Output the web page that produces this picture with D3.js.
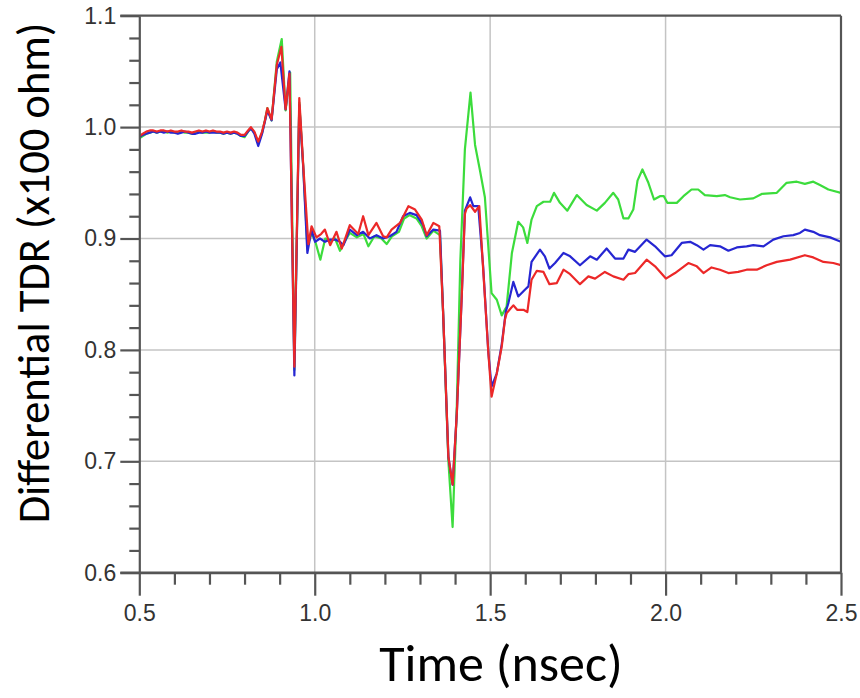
<!DOCTYPE html>
<html>
<head>
<meta charset="utf-8">
<script src="https://cdn.jsdelivr.net/npm/d3@7"></script>
<style>
  body { margin: 0; background: #fff; }
  svg { display: block; }
</style>
</head>
<body>
<svg id="chart" width="860" height="698"></svg>
<script>
// [time (nsec), impedance (x100 ohm)]
var greenSeries = [
  [0.500,0.990],[0.510,0.992],[0.520,0.994],[0.530,0.995],[0.540,0.996],[0.550,0.995],[0.560,0.996],[0.570,0.996],
  [0.580,0.995],[0.590,0.996],[0.600,0.995],[0.610,0.995],[0.620,0.996],[0.630,0.995],[0.640,0.995],[0.650,0.994],
  [0.660,0.995],[0.670,0.996],[0.680,0.995],[0.690,0.995],[0.700,0.995],[0.710,0.996],[0.720,0.995],[0.730,0.995],
  [0.740,0.994],[0.750,0.995],[0.760,0.994],[0.770,0.995],[0.780,0.994],[0.790,0.992],[0.800,0.991],[0.810,0.996],
  [0.818,0.999],[0.828,0.995],[0.839,0.986],[0.850,0.995],[0.858,1.006],[0.865,1.017],[0.877,1.006],[0.892,1.059],
  [0.906,1.079],[0.917,1.015],[0.930,1.049],[0.942,0.782],[0.956,1.022],[0.967,0.966],[0.979,0.893],[0.991,0.905],
  [1.001,0.898],[1.016,0.881],[1.030,0.900],[1.044,0.897],[1.058,0.900],[1.072,0.889],[1.085,0.897],[1.100,0.905],
  [1.120,0.901],[1.139,0.904],[1.153,0.893],[1.170,0.902],[1.190,0.900],[1.205,0.895],[1.220,0.902],[1.240,0.906],
  [1.255,0.918],[1.270,0.921],[1.290,0.918],[1.305,0.911],[1.319,0.900],[1.338,0.907],[1.357,0.903],[1.366,0.833],
  [1.381,0.700],[1.393,0.641],[1.405,0.750],[1.415,0.880],[1.428,0.980],[1.444,1.031],[1.457,0.984],[1.471,0.961],
  [1.485,0.937],[1.504,0.851],[1.519,0.845],[1.533,0.831],[1.547,0.839],[1.562,0.887],[1.580,0.915],[1.594,0.910],
  [1.606,0.896],[1.618,0.917],[1.633,0.929],[1.652,0.933],[1.671,0.933],[1.682,0.941],[1.699,0.932],[1.720,0.925],
  [1.747,0.939],[1.775,0.930],[1.804,0.925],[1.827,0.932],[1.851,0.941],[1.865,0.935],[1.880,0.918],[1.894,0.918],
  [1.908,0.926],[1.920,0.952],[1.934,0.962],[1.951,0.950],[1.967,0.935],[1.984,0.938],[1.995,0.938],[2.005,0.932],
  [2.032,0.932],[2.051,0.938],[2.074,0.944],[2.093,0.944],[2.112,0.939],[2.146,0.938],[2.169,0.939],[2.184,0.937],
  [2.212,0.935],[2.250,0.936],[2.274,0.940],[2.317,0.941],[2.345,0.950],[2.374,0.951],[2.397,0.949],[2.421,0.951],
  [2.440,0.948],[2.464,0.944],[2.500,0.941]
];

var blueSeries = [
  [0.500,0.991],[0.510,0.993],[0.520,0.994],[0.530,0.995],[0.540,0.996],[0.550,0.995],[0.560,0.996],[0.570,0.995],
  [0.580,0.996],[0.590,0.995],[0.600,0.995],[0.610,0.994],[0.620,0.995],[0.630,0.996],[0.640,0.995],[0.650,0.994],
  [0.660,0.994],[0.670,0.995],[0.680,0.995],[0.690,0.996],[0.700,0.995],[0.710,0.995],[0.720,0.995],[0.730,0.995],
  [0.740,0.994],[0.750,0.995],[0.760,0.994],[0.770,0.995],[0.780,0.994],[0.790,0.992],[0.800,0.992],[0.810,0.996],
  [0.818,0.999],[0.828,0.994],[0.839,0.983],[0.850,0.994],[0.858,1.005],[0.865,1.015],[0.877,1.006],[0.892,1.052],
  [0.902,1.058],[0.917,1.016],[0.928,1.050],[0.942,0.777],[0.956,1.020],[0.967,0.965],[0.979,0.887],[0.991,0.908],
  [1.001,0.897],[1.015,0.900],[1.029,0.897],[1.044,0.899],[1.058,0.899],[1.072,0.897],[1.082,0.894],[1.100,0.908],
  [1.120,0.903],[1.138,0.906],[1.157,0.900],[1.176,0.903],[1.195,0.900],[1.214,0.902],[1.233,0.906],[1.252,0.920],
  [1.271,0.923],[1.290,0.921],[1.309,0.912],[1.319,0.902],[1.338,0.908],[1.357,0.907],[1.366,0.833],[1.381,0.704],
  [1.393,0.679],[1.405,0.743],[1.419,0.848],[1.428,0.925],[1.443,0.937],[1.452,0.929],[1.466,0.929],[1.480,0.875],
  [1.495,0.797],[1.504,0.767],[1.519,0.779],[1.533,0.805],[1.545,0.835],[1.552,0.842],[1.566,0.861],[1.580,0.848],
  [1.599,0.854],[1.609,0.857],[1.618,0.879],[1.642,0.890],[1.656,0.884],[1.669,0.873],[1.685,0.878],[1.709,0.887],
  [1.728,0.884],[1.756,0.876],[1.785,0.884],[1.804,0.881],[1.832,0.891],[1.856,0.882],[1.880,0.882],[1.894,0.890],
  [1.913,0.888],[1.946,0.899],[1.970,0.893],[1.998,0.884],[2.017,0.885],[2.046,0.896],[2.070,0.897],[2.089,0.894],
  [2.108,0.890],[2.127,0.894],[2.155,0.893],[2.179,0.889],[2.203,0.892],[2.231,0.893],[2.250,0.894],[2.279,0.893],
  [2.307,0.899],[2.336,0.902],[2.364,0.903],[2.383,0.905],[2.397,0.908],[2.421,0.906],[2.440,0.903],[2.469,0.901],
  [2.500,0.897]
];

var redSeries = [
  [0.500,0.992],[0.510,0.994],[0.520,0.996],[0.530,0.997],[0.540,0.997],[0.550,0.996],[0.560,0.997],[0.570,0.997],
  [0.580,0.996],[0.590,0.997],[0.600,0.996],[0.610,0.996],[0.620,0.997],[0.630,0.996],[0.640,0.996],[0.650,0.995],
  [0.660,0.996],[0.670,0.997],[0.680,0.996],[0.690,0.997],[0.700,0.996],[0.710,0.997],[0.720,0.996],[0.730,0.996],
  [0.740,0.995],[0.750,0.996],[0.760,0.995],[0.770,0.996],[0.780,0.995],[0.790,0.993],[0.800,0.993],[0.810,0.997],
  [0.818,1.000],[0.828,0.996],[0.839,0.987],[0.850,0.996],[0.858,1.006],[0.865,1.017],[0.877,1.007],[0.892,1.056],
  [0.905,1.072],[0.917,1.016],[0.928,1.048],[0.942,0.785],[0.956,1.026],[0.967,0.967],[0.982,0.895],[0.991,0.911],
  [1.005,0.901],[1.018,0.904],[1.029,0.908],[1.044,0.894],[1.062,0.906],[1.077,0.891],[1.100,0.912],[1.124,0.904],
  [1.138,0.920],[1.153,0.903],[1.176,0.914],[1.195,0.902],[1.205,0.901],[1.219,0.908],[1.243,0.914],[1.267,0.929],
  [1.286,0.926],[1.305,0.917],[1.319,0.903],[1.338,0.914],[1.355,0.911],[1.366,0.833],[1.381,0.704],[1.393,0.679],
  [1.405,0.743],[1.419,0.848],[1.428,0.922],[1.433,0.927],[1.443,0.930],[1.457,0.924],[1.469,0.929],[1.480,0.873],
  [1.495,0.797],[1.504,0.758],[1.519,0.779],[1.533,0.803],[1.542,0.827],[1.547,0.833],[1.566,0.840],[1.577,0.836],
  [1.595,0.836],[1.606,0.834],[1.618,0.863],[1.633,0.871],[1.652,0.870],[1.669,0.859],[1.690,0.860],[1.709,0.872],
  [1.728,0.868],[1.756,0.859],[1.780,0.866],[1.799,0.864],[1.827,0.870],[1.851,0.866],[1.880,0.863],[1.894,0.868],
  [1.913,0.869],[1.946,0.881],[1.970,0.875],[2.001,0.864],[2.027,0.869],[2.065,0.878],[2.089,0.875],[2.108,0.869],
  [2.131,0.874],[2.155,0.872],[2.179,0.869],[2.207,0.870],[2.231,0.872],[2.260,0.872],[2.288,0.876],[2.317,0.879],
  [2.355,0.881],[2.397,0.885],[2.421,0.883],[2.450,0.879],[2.478,0.878],[2.500,0.876]
];

var xMajorTicks = [0.5, 1.0, 1.5, 2.0, 2.5];
var xMinorTicks = [0.6, 0.7, 0.8, 0.9, 1.1, 1.2, 1.3, 1.4, 1.6, 1.7, 1.8, 1.9, 2.1, 2.2, 2.3, 2.4];
var yMajorTicks = [0.6, 0.7, 0.8, 0.9, 1.0, 1.1];
var xGrid = [1.0, 1.5, 2.0];
var yGrid = [0.7, 0.8, 0.9, 1.0];

//////////////////////////////////////////////////////////////////////////////

var svg = d3.select("#chart");
var plot = { left: 139.3, right: 841, top: 15.7, bottom: 572.7 };
var axisColor = "#555";

var xScale = d3.scaleLinear().domain([0.5, 2.5]).range([plot.left, plot.right]);
var yScale = d3.scaleLinear().domain([0.6, 1.1]).range([plot.bottom, plot.top]);

// grid
svg.append("g").selectAll("line")
  .data(yGrid)
  .enter()
  .append("line")
  .attr("x1", plot.left)
  .attr("x2", plot.right)
  .attr("y1", function(d) { return yScale(d); })
  .attr("y2", function(d) { return yScale(d); })
  .attr("stroke", "#c4c4c4")
  .attr("stroke-width", 1.5);

svg.append("g").selectAll("line")
  .data(xGrid)
  .enter()
  .append("line")
  .attr("x1", function(d) { return xScale(d); })
  .attr("x2", function(d) { return xScale(d); })
  .attr("y1", plot.top)
  .attr("y2", plot.bottom)
  .attr("stroke", "#c4c4c4")
  .attr("stroke-width", 1.5);

// series
svg.append("clipPath")
  .attr("id", "plotClip")
  .append("rect")
  .attr("x", plot.left)
  .attr("y", plot.top)
  .attr("width", plot.right - plot.left)
  .attr("height", plot.bottom - plot.top);

var line = d3.line()
  .x(function(d) { return xScale(d[0]); })
  .y(function(d) { return yScale(d[1]); });

var seriesList = [
  { data: greenSeries, color: "#3cdc3c" },
  { data: blueSeries, color: "#2626d2" },
  { data: redSeries, color: "#ec2828" }
];

svg.append("g")
  .attr("clip-path", "url(#plotClip)")
  .selectAll("path")
  .data(seriesList)
  .enter()
  .append("path")
  .attr("d", function(d) { return line(d.data); })
  .attr("fill", "none")
  .attr("stroke", function(d) { return d.color; })
  .attr("stroke-width", 2.2)
  .attr("stroke-linejoin", "round");

// y axis: minor then major
var yMinor = d3.range(0.62, 1.1, 0.02).filter(function(v) {
  return Math.abs(v * 10 - Math.round(v * 10)) > 0.01;
});

svg.append("g")
  .attr("transform", "translate(" + plot.left + ",0)")
  .call(d3.axisLeft(yScale).tickValues(yMinor).tickSize(10).tickFormat(""))
  .call(function(g) { g.select(".domain").remove(); });

svg.append("g")
  .attr("class", "yaxis")
  .attr("transform", "translate(" + plot.left + ",0)")
  .call(d3.axisLeft(yScale).tickValues(yMajorTicks).tickSize(19).tickSizeOuter(0).tickPadding(4)
    .tickFormat(d3.format(".1f")));

// x axis: minor then major
svg.append("g")
  .attr("transform", "translate(0," + plot.bottom + ")")
  .call(d3.axisBottom(xScale).tickValues(xMinorTicks).tickSize(12).tickFormat(""))
  .call(function(g) { g.select(".domain").remove(); });

svg.append("g")
  .attr("class", "xaxis")
  .attr("transform", "translate(0," + plot.bottom + ")")
  .call(d3.axisBottom(xScale).tickValues(xMajorTicks).tickSize(23).tickSizeOuter(0).tickPadding(9)
    .tickFormat(d3.format(".1f")));

svg.selectAll(".tick line, .domain")
  .attr("stroke", axisColor)
  .attr("stroke-width", 2.2);

svg.selectAll(".xaxis text, .yaxis text")
  .attr("fill", "#333")
  .style("font-family", "'Liberation Sans', Arial, sans-serif")
  .style("font-size", "23px");

// frame: bottom line runs out to the left, top and right close the box
svg.append("line")
  .attr("x1", plot.left - 19).attr("x2", plot.right)
  .attr("y1", plot.bottom).attr("y2", plot.bottom)
  .attr("stroke", axisColor).attr("stroke-width", 2.2);

svg.append("line")
  .attr("x1", plot.left - 19).attr("x2", plot.right)
  .attr("y1", plot.top).attr("y2", plot.top)
  .attr("stroke", axisColor).attr("stroke-width", 2.2);

svg.append("line")
  .attr("x1", plot.right).attr("x2", plot.right)
  .attr("y1", plot.top).attr("y2", plot.bottom)
  .attr("stroke", axisColor).attr("stroke-width", 2.2);

// axis titles
svg.append("text")
  .attr("transform", "translate(49,273) rotate(-90)")
  .style("text-anchor", "middle")
  .style("font-family", "Carlito, Calibri, 'Open Sans', sans-serif")
  .style("font-size", "44.5px")
  .attr("fill", "#000")
  .text("Differential TDR (x100 ohm)");

svg.append("text")
  .attr("x", 501)
  .attr("y", 681)
  .style("text-anchor", "middle")
  .style("font-family", "Carlito, Calibri, 'Open Sans', sans-serif")
  .style("font-size", "52px")
  .attr("fill", "#000")
  .text("Time (nsec)");
</script>
</body>
</html>
